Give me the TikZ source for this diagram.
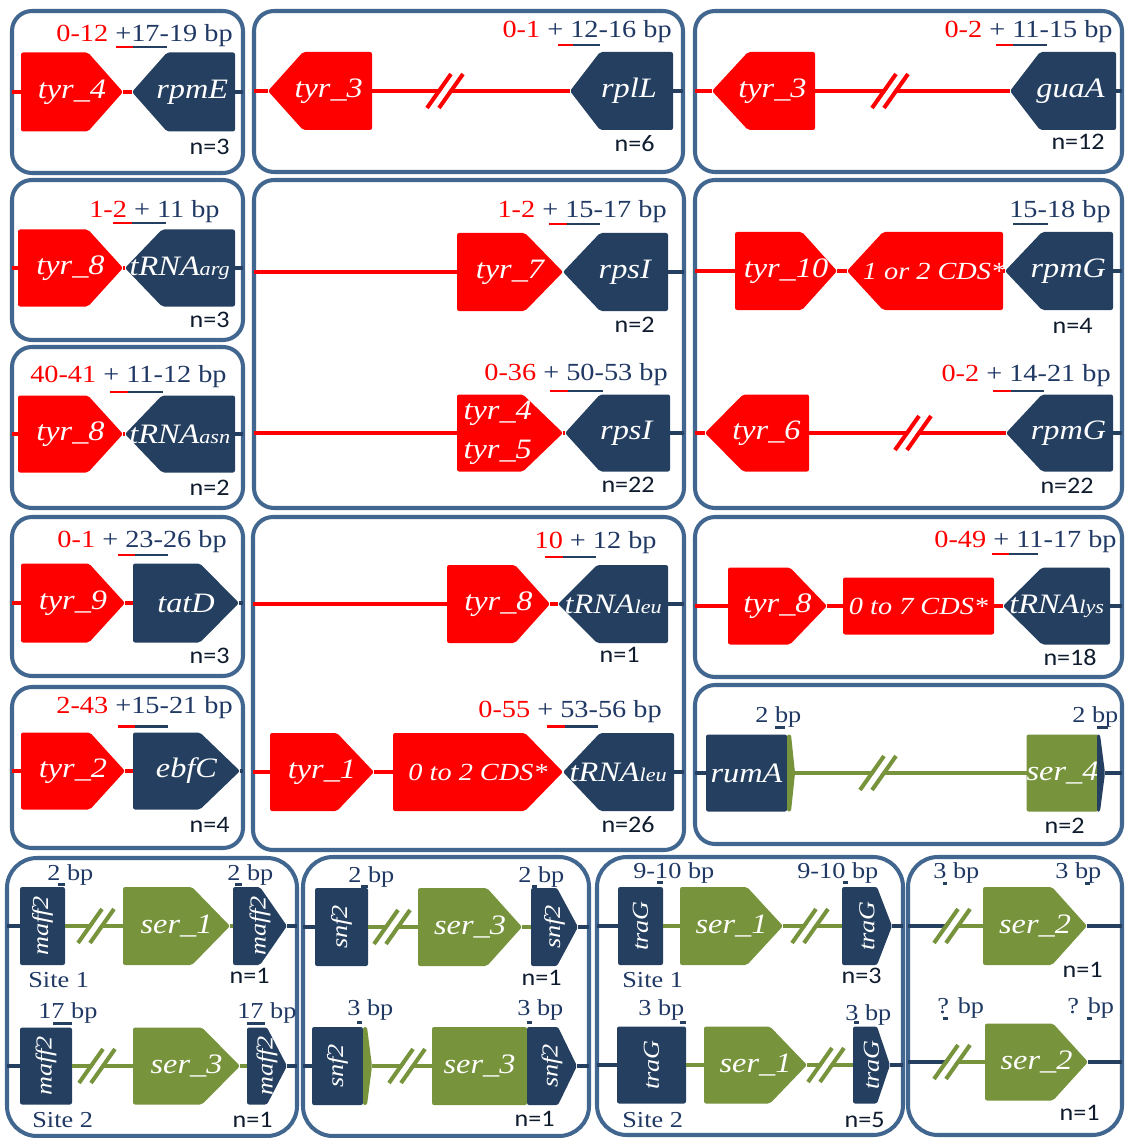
\documentclass[tikz,border=0pt]{standalone}
\usepackage{fontspec}
\usepackage{graphicx}
\setmainfont{Liberation Serif}[FakeStretch=1.15]
\newfontfamily\nfont{Carlito}[FakeStretch=1.1]

\definecolor{tyr}{HTML}{FF0000}
\definecolor{host}{HTML}{243F60}
\definecolor{ser}{HTML}{77933C}
\definecolor{boxc}{HTML}{41668F}
\definecolor{bpc}{HTML}{1F3864}
\definecolor{nc}{HTML}{0F1C2E}

\newcommand\rd[1]{\textcolor{tyr}{#1}}
\newcommand\trna[1]{tRNA{\fontsize{11}{11}\selectfont #1}\kern0.38cm}
\newcommand\cds{\fontsize{14}{16}\selectfont}
\newcommand\vtxt[1]{\rotatebox{90}{\fontsize{13}{14}\selectfont #1}}
% break mark "//" on a line: x, y, colour
\newcommand\brkmark[3]{%
    \draw[white, line width=3.3pt] (#1-12,#2+17) -- (#1+12,#2-17);
    \draw[#3, line width=2.3pt] (#1-18,#2+17) -- (#1+6,#2-17);
    \draw[#3, line width=2.3pt] (#1-6,#2+17) -- (#1+18,#2-17);
}

\begin{document}
\begin{tikzpicture}
[
    x=0.02cm, y=-0.02cm,
    % All coordinates are pixels of the figure, y grows downwards.
    % Boxes are named a ... p, the genes in box a are a-1, a-2, ...
]

%=================================== Start ===================================
\tikzstyle{box}      = [draw=boxc, line width=2.3pt, rounded corners=0.4cm, inner sep=0pt, outer sep=0pt]
\tikzstyle{g}        = [inner sep=0pt, outer sep=0pt, align=center, text=white,
                        font=\fontsize{16}{22}\selectfont\itshape]
\tikzstyle{tyrline}  = [draw=tyr, line width=2pt]
\tikzstyle{hostline} = [draw=host, line width=2pt]
\tikzstyle{serline}  = [draw=ser, line width=2pt]
\tikzstyle{bpl}      = [inner sep=0pt, anchor=base east, text=bpc, font=\fontsize{14}{16}\selectfont]
\tikzstyle{sbp}      = [inner sep=0pt, anchor=base west, text=bpc, font=\fontsize{13}{15}\selectfont]
\tikzstyle{nl}       = [inner sep=0pt, anchor=base east, text=nc, font=\nfont\fontsize{13.5}{15}\selectfont]
\tikzset{
    % gene: colour, head length on the left, head length on the right
    gn/.style n args={3}{g, path picture={
        \fill[#1, rounded corners=1.2pt] ([xshift=#2*0.02cm]path picture bounding box.north west)
            -- ([xshift=-#3*0.02cm]path picture bounding box.north east)
            -- (path picture bounding box.east)
            -- ([xshift=-#3*0.02cm]path picture bounding box.south east)
            -- ([xshift=#2*0.02cm]path picture bounding box.south west)
            -- (path picture bounding box.west) -- cycle;}},
    sz/.style 2 args={minimum width=(#1)*0.02cm, minimum height=(#2)*0.02cm}
}

\fill[white] (0,0) rectangle (1126,1138);
\useasboundingbox (0,0) rectangle (1126,1138);

% Draw boxes
\foreach \nm/\xl/\xr/\yt/\yb in {a/12/243/11/173, b/254/683/11/172, c/695/1122/11/172,
                                 d/12/243/180/340, e/12/243/347/508, f/254/684/180/508,
                                 g/695/1122/180/508, h/12/243/517/676, i/12/243/687/848,
                                 j/253/684/517/850, k/695/1122/517/677, l/695/1122/685/844}
    \node[box, sz={\xr-\xl}{\yb-\yt}] (\nm) at ({(\xl+\xr)/2},{(\yt+\yb)/2}) {};
\foreach \nm/\xl/\xr/\yt/\yb in {m/7/297/858/1136, n/303/589/857/1136,
                                 o/597/903/857/1135, p/908/1122/857/1135}
    \node[box, rounded corners=0.6cm, sz={\xr-\xl}{\yb-\yt}] (\nm) at ({(\xl+\xr)/2},{(\yt+\yb)/2}) {};

% Draw genes: name/colour/left head/right head/left/right/y/height/text
\foreach \nm/\col/\hdl/\hdr/\xl/\xr/\yc/\hh/\txt in {
    a-1/tyr/0/35/21/123/92/79/tyr\_4,
    a-2/host/35/0/132/235/92/79/rpmE,
    b-1/tyr/35/0/268/372/91/78/tyr\_3,
    b-2/host/30/0/570/673/91/78/rplL,
    c-1/tyr/36/0/712/815/91/78/tyr\_3,
    c-2/host/30/0/1010/1116/91/78/guaA,
    d-1/tyr/0/35/18/123/268/77/tyr\_8,
    d-2/host/37/0/125/235/268/77/\trna{arg},
    e-1/tyr/0/35/18/123/434/77/tyr\_8,
    e-2/host/37/0/125/235/434/77/\trna{asn},
    f-1/tyr/0/38/457/563/272/78/tyr\_7,
    f-2/host/37/0/563/668/272/78/rpsI,
    f-3/tyr/0/40/457/563/433/77/tyr\_4\kern14pt\\tyr\_5\kern14pt,
    f-4/host/35/0/565/670/433/77/rpsI,
    g-1/tyr/0/35/735/837/271/78/tyr\_10,
    g-2/tyr/36/0/847/1003/271/78/\cds 1 or 2 CDS*,
    g-3/host/37/0/1005/1113/271/78/rpmG,
    g-4/tyr/38/0/705/809/433/77/tyr\_6,
    g-5/host/36/0/1006/1113/433/77/rpmG,
    h-1/tyr/0/36/21/125/603/79/tyr\_9,
    h-2/host/0/39/133/239/603/79/tatD,
    i-1/tyr/0/35/21/125/771/77/tyr\_2,
    i-2/host/0/40/133/240/771/77/ebfC,
    j-1/tyr/0/35/447/550/604/78/tyr\_8,
    j-2/host/39/0/558/668/604/78/\trna{leu},
    j-3/tyr/0/37/270/374/772/78/tyr\_1,
    j-4/tyr/0/38/393/563/772/78/\cds 0 to 2 CDS*,
    j-5/host/37/0/563/674/772/78/\trna{leu},
    k-1/tyr/0/37/728/827/606/77/tyr\_8,
    k-2/tyr/0/0/843/994/606/57/\cds 0 to 7 CDS*,
    k-3/host/39/0/1003/1110/606/77/\trna{lys},
    l-1/host/0/0/706/787/773/77/rumA,
    l-2/ser/0/4/787/795/773/77/{},
    l-3/ser/0/0/1028/1097/773/77/ser\_4,
    l-4/host/0/5/1097/1105/773/77/{},
    m-1/host/0/0/20/65/926/78/\vtxt{maff2},
    m-2/ser/0/38/123/230/926/78/ser\_1,
    m-3/host/0/27/233/287/926/78/\vtxt{maff2},
    m-4/host/0/0/20/72/1066/77/\vtxt{maff2},
    m-5/ser/0/38/133/240/1066/77/ser\_3,
    m-6/host/0/20/247/287/1066/77/\vtxt{maff2},
    n-1/host/0/0/315/368/927/78/\vtxt{snf2},
    n-2/ser/0/35/418/522/927/78/ser\_3,
    n-3/host/0/21/531/578/927/78/\vtxt{snf2},
    n-4/host/0/0/312/363/1066/78/\vtxt{snf2},
    n-5/ser/0/5/363/372/1066/78/{},
    n-6/ser/0/0/432/527/1066/78/ser\_3,
    n-7/host/0/19/527/577/1066/78/\vtxt{snf2},
    o-1/host/0/0/618/663/926/78/\vtxt{traG},
    o-2/ser/0/36/680/783/926/78/ser\_1,
    o-3/host/0/15/842/892/926/78/\vtxt{traG},
    o-4/host/0/0/617/686/1065/77/\vtxt{traG},
    o-5/ser/0/37/704/807/1065/77/ser\_1,
    o-6/host/0/13/853/890/1065/77/\vtxt{traG},
    p-1/ser/0/35/983/1087/926/78/ser\_2,
    p-2/ser/0/35/985/1088/1062/77/ser\_2}
    \node[gn={\col}{\hdl}{\hdr}, sz={\xr-\xl}{\hh}] (\nm) at ({(\xl+\xr)/2},\yc)
        {\txt\kern-\hdl\dimexpr0.01cm\relax};

% Connect box edges and genes
\foreach \bx/\d in {a/a-1, b/b-1, c/c-1, d/d-1, e/e-1, f/f-1, f/f-3,
                    g/g-1, g/g-4, h/h-1, i/i-1, j/j-1, j/j-3, k/k-1}
    \draw[tyrline] (\bx.west |- \d.west) -- (\d.west);
\foreach \bx/\d in {l/l-1, m/m-1, m/m-4, n/n-1, n/n-4, o/o-1, o/o-4}
    \draw[hostline] (\bx.west |- \d.west) -- (\d.west);
\foreach \s/\bx in {a-2/a, b-2/b, c-2/c, d-2/d, e-2/e, f-2/f, f-4/f, g-3/g, g-5/g,
                    h-2/h, i-2/i, j-2/j, j-5/j, k-3/k, l-4/l, m-3/m, m-6/m,
                    n-3/n, n-7/n, o-3/o, o-6/o, p-1/p, p-2/p}
    \draw[hostline] (\s.east) -- (\s.east -| \bx.east);
\foreach \s/\d in {a-1/a-2, b-1/b-2, c-1/c-2, d-1/d-2, e-1/e-2, f-1/f-2, f-3/f-4,
                   g-1/g-2, g-2/g-3, g-4/g-5, h-1/h-2, i-1/i-2, j-1/j-2, j-3/j-4,
                   j-4/j-5, k-1/k-2, k-2/k-3}
    \draw[tyrline] (\s.east) -- (\d.west);
\foreach \s/\d in {l-2/l-3, m-1/m-2, m-2/m-3, m-4/m-5, m-5/m-6, n-1/n-2, n-2/n-3,
                   n-5/n-6, o-1/o-2, o-2/o-3, o-4/o-5, o-5/o-6}
    \draw[serline] (\s.east) -- (\d.west);
% box p: the host line turns green at the break
\coordinate (p-c1) at (952,926);
\coordinate (p-c2) at (952,1062);
\foreach \cc/\d in {p-c1/p-1, p-c2/p-2}
{
    \draw[hostline] (p.west |- \cc) -- (\cc);
    \draw[serline] (\cc) -- (\d.west);
}

% Draw the breaks
\brkmark{445}{91}{tyr}
\brkmark{890}{91}{tyr}
\brkmark{913}{433}{tyr}
\foreach \x/\y in {878/773, 96/926, 97/1066, 392/927, 407/1066, 810/926, 826/1065, 952/926, 952/1062}
{
    \brkmark{\x}{\y}{ser}
}

% Spacer lengths
\foreach \x/\y/\txt [count=\i] in {233/42/{\rd{0-12} +17-19 bp}, 672/38/{\rd{0-1} + 12-16 bp},
        1113/38/{\rd{0-2} + 11-15 bp}, 220/218/{\rd{1-2} + 11 bp}, 227/382/{\rd{40-41} + 11-12 bp},
        667/218/{\rd{1-2} + 15-17 bp}, 668/380/{\rd{0-36} + 50-53 bp}, 1111/218/{15-18 bp},
        1111/381/{\rd{0-2} + 14-21 bp}, 227/547/{\rd{0-1} + 23-26 bp}, 233/713/{\rd{2-43} +15-21 bp},
        657/548/{\rd{10} + 12 bp}, 662/717/{\rd{0-55} + 53-56 bp}, 1117/547/{\rd{0-49} + 11-17 bp}}
    \node[bpl] (bp-\i) at (\x,\y) {\txt};
\foreach \xa/\xb/\xc/\y in {116/133/167/47, 558/573/600/45, 996/1013/1047/45, 113/132/166/223,
        110/128/163/392, 549/567/600/224, 550/568/603/391, 1013/1013/1048/224, 993/1011/1044/391,
        118/135/168/555, 118/135/168/726, 545/563/596/557, 547/565/598/726, 992/1009/1038/554}
{
    \draw[tyr, line width=1.7pt] (\xa,\y) -- (\xb,\y);
    \draw[host, line width=1.7pt] (\xb,\y) -- (\xc,\y);
}
\foreach \x/\y/\txt/\ua/\ub/\uy [count=\i] in {755/722/2/775/785/727, 1072/722/2/1097/1108/727,
        47/880/2/58/65/884, 227/880/2/235/242/884, 38/1018/17/53/72/1023, 237/1018/17/247/265/1023,
        348/882/2/361/368/886, 518/882/2/532/537/886, 347/1015/3/357/362/1022, 517/1015/3/527/532/1022,
        633/878/9-10/657/663/882, 797/878/9-10/843/848/882, 638/1015/3/680/686/1022,
        845/1020/3/854/859/1022, 933/878/3/943/947/883, 1055/878/3/1085/1090/883,
        937/1013/?/943/948/1018, 1067/1013/?/1087/1092/1018}
{
    \node[sbp] (sbp-\i) at (\x,\y) {\txt{} bp};
    \draw[host, line width=1.7pt] (\ua,\uy) -- (\ub,\uy);
}

% Sites and counts
\foreach \x/\y/\t [count=\i] in {28/987/1, 32/1127/2, 622/987/1, 622/1127/2}
    \node[sbp, text=bpc] (site-\i) at (\x,\y) {Site \t};
\foreach \x/\y/\t [count=\i] in {230/155/3, 655/152/6, 1105/150/12, 230/327/3, 230/495/2,
        655/332/2, 655/492/22, 1093/333/4, 1094/493/22, 230/663/3, 230/832/4, 640/662/1,
        655/832/26, 1097/665/18, 1085/833/2, 270/983/1, 273/1127/1, 562/985/1, 555/1126/1,
        882/983/3, 885/1127/5, 1103/977/1, 1100/1120/1}
    \node[nl] (cnt-\i) at (\x,\y) {n=\t};
%==================================== END ====================================

\end{tikzpicture}
\end{document}
